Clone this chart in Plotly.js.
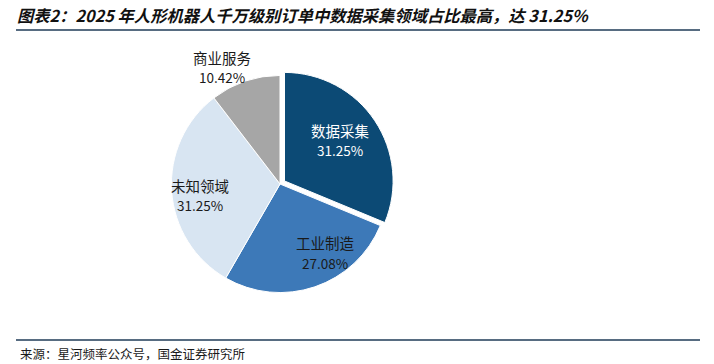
<!DOCTYPE html>
<html>
<head>
<meta charset="utf-8">
<script src="https://cdn.plot.ly/plotly-3.0.1.min.js"></script>
<style>
  html, body { margin: 0; padding: 0; background: #ffffff; }
  #chart { width: 714px; height: 364px; }
</style>
</head>
<body>
<div id="chart"></div>
<script>
const categories = ['数据采集', '工业制造', '未知领域', '商业服务'];
const shares = [31.25, 27.08, 31.25, 10.42];
const sliceColors = ['#0C4A75', '#3D79B8', '#D8E5F2', '#A6A6A6'];
const textColors = ['#FFFFFF', '#1A1A1A', '#1A1A1A', '#1A1A1A'];
const titleText = '图表2：2025 年人形机器人千万级别订单中数据采集领域占比最高，达 31.25%';
const sourceText = '来源：星河频率公众号，国金证券研究所';

const W = 714, H = 364;
const cx = 280, cy = 184, half = 114;

// label anchor points (pixels) for each category's name / percent text
const labelPx = [[340, 130], [325, 243], [200, 185], [222, 57]];
const lineGap = 20;

const trace = {
  type: 'pie',
  labels: categories,
  values: shares,
  textinfo: 'none',
  hoverinfo: 'label+value',
  sort: false,
  direction: 'clockwise',
  rotation: 0,
  pull: [0.05, 0, 0, 0],
  marker: { colors: sliceColors, line: { color: '#FFFFFF', width: 1 } },
  domain: {
    x: [(cx - half) / W, (cx + half) / W],
    y: [1 - (cy + half) / H, 1 - (cy - half) / H]
  },
  showlegend: false
};

const labelFont = '"Noto Sans CJK SC", "Noto Sans", sans-serif';
const annotations = [];
categories.forEach((c, i) => {
  const [px, py] = labelPx[i];
  annotations.push({
    text: c, xref: 'paper', yref: 'paper', x: px / W, y: 1 - py / H,
    xanchor: 'center', yanchor: 'middle', showarrow: false,
    font: { family: labelFont, size: 14.5, color: textColors[i] }
  });
  annotations.push({
    text: shares[i].toFixed(2) + '%', xref: 'paper', yref: 'paper', x: px / W, y: 1 - (py + lineGap) / H,
    xanchor: 'center', yanchor: 'middle', showarrow: false,
    font: { family: labelFont, size: 13.5, color: textColors[i] }
  });
});
annotations.push({
  text: sourceText, xref: 'paper', yref: 'paper', x: 18 / W, xanchor: 'left',
  y: 1 - 353 / H, yanchor: 'middle', showarrow: false,
  font: { family: labelFont, size: 12.5, color: '#1A1A1A' }
});

const layout = {
  width: W, height: H,
  margin: { l: 0, r: 0, t: 0, b: 0 },
  paper_bgcolor: '#FFFFFF',
  plot_bgcolor: '#FFFFFF',
  font: { family: labelFont, color: '#1A1A1A' },
  title: {
    text: '<b><i>' + titleText + '</i></b>',
    x: 17 / W, xanchor: 'left', xref: 'paper',
    y: 1 - 16 / H, yanchor: 'middle', yref: 'container',
    font: { family: '"Noto Sans CJK SC", sans-serif', size: 16.3, color: '#111111' }
  },
  shapes: [
    { type: 'line', xref: 'paper', yref: 'paper', x0: 16 / W, x1: 700 / W,
      y0: 1 - 30 / H, y1: 1 - 30 / H, line: { color: '#1F3B57', width: 1.6 } },
    { type: 'line', xref: 'paper', yref: 'paper', x0: 16 / W, x1: 700 / W,
      y0: 1 - 340 / H, y1: 1 - 340 / H, line: { color: '#1F3B57', width: 1.4 } }
  ],
  annotations: annotations
};

Plotly.newPlot('chart', [trace], layout, { displayModeBar: false, staticPlot: true });
</script>
</body>
</html>
